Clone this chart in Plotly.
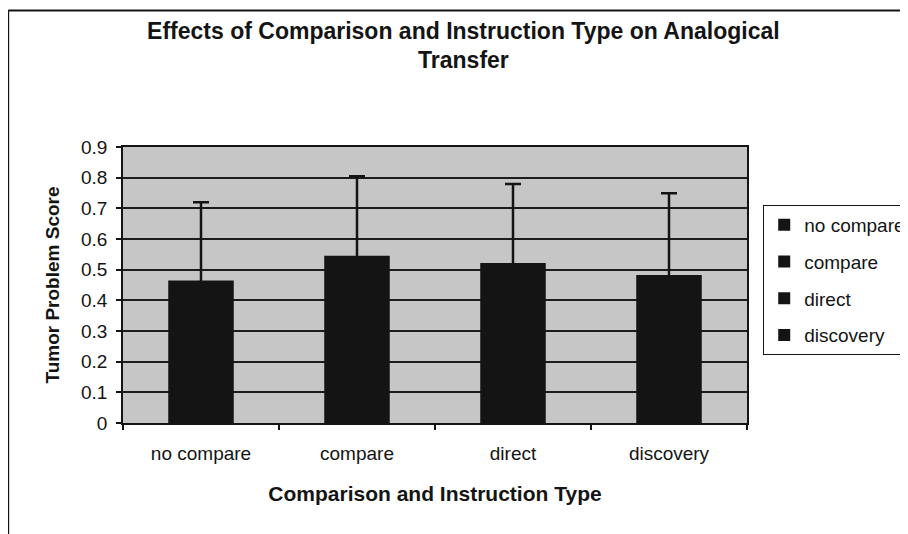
import plotly.graph_objects as go

categories = ["no compare", "compare", "direct", "discovery"]
scores = [0.465, 0.545, 0.522, 0.483]
errors = [0.255, 0.26, 0.257, 0.266]
y_ticks = [0, 0.1, 0.2, 0.3, 0.4, 0.5, 0.6, 0.7, 0.8, 0.9]

FONT = "Liberation Sans, Arial, sans-serif"
INK = "#141414"

fig = go.Figure()
for cat, val, err in zip(categories, scores, errors):
    fig.add_trace(go.Bar(
        x=[cat], y=[val], name=cat, legendgroup=cat,
        marker=dict(color=INK, line=dict(width=0)),
        error_y=dict(type="data", array=[err], symmetric=True,
                     color=INK, thickness=2.5, width=8),
    ))

# page body has an 8px margin: figure is 900x526 so it fills the 908x534 window
fig.update_layout(
    width=900, height=526,
    paper_bgcolor="white", plot_bgcolor="#c6c6c6",
    barmode="overlay", bargap=0.58,
    margin=dict(l=115, r=161, t=139, b=111, autoexpand=False),
    font=dict(family=FONT, color=INK, size=19),
    title=dict(text="<b>Effects of Comparison and Instruction Type on Analogical<br>Transfer</b>",
               x=0.506, xref="container", xanchor="center",
               y=0.942, yref="container", yanchor="top",
               font=dict(family=FONT, size=23, color=INK)),
    legend=dict(x=1.026, xanchor="left", y=0.79, yanchor="top",
                bgcolor="white", bordercolor=INK, borderwidth=1,
                font=dict(family=FONT, size=19, color=INK),
                tracegroupgap=9, traceorder="grouped"),
    xaxis=dict(
        automargin=False,
        categoryorder="array", categoryarray=categories,
        showline=True, linecolor=INK, linewidth=1.5, mirror=True,
        ticks="outside", ticklen=5, tickcolor=INK, tickwidth=1.5,
        tickson="boundaries", ticklabelstandoff=12,
        showgrid=False,
        title=dict(text="<b>Comparison and Instruction Type</b>", standoff=24,
                   font=dict(family=FONT, size=21, color=INK)),
    ),
    yaxis=dict(
        automargin=False,
        range=[0, 0.9], tickvals=y_ticks, ticktext=[f"{v:g}" for v in y_ticks],
        showline=True, linecolor=INK, linewidth=1.5, mirror=True,
        ticks="outside", ticklen=5, tickcolor=INK, tickwidth=1.5,
        ticklabelstandoff=5,
        showgrid=True, gridcolor="#1c1c1c", gridwidth=1.5,
        zeroline=False,
        title=dict(text="<b>Tumor Problem Score</b>", standoff=16,
                   font=dict(family=FONT, size=19, color=INK)),
    ),
    shapes=[
        dict(type="line", xref="paper", yref="paper", x0=-0.184, x1=-0.184, y0=1.495, y1=-0.45,
             line=dict(color=INK, width=2)),
        dict(type="line", xref="paper", yref="paper", x0=-0.184, x1=1.3, y0=1.495, y1=1.495,
             line=dict(color=INK, width=2)),
    ],
)

fig.write_html("out.html")
